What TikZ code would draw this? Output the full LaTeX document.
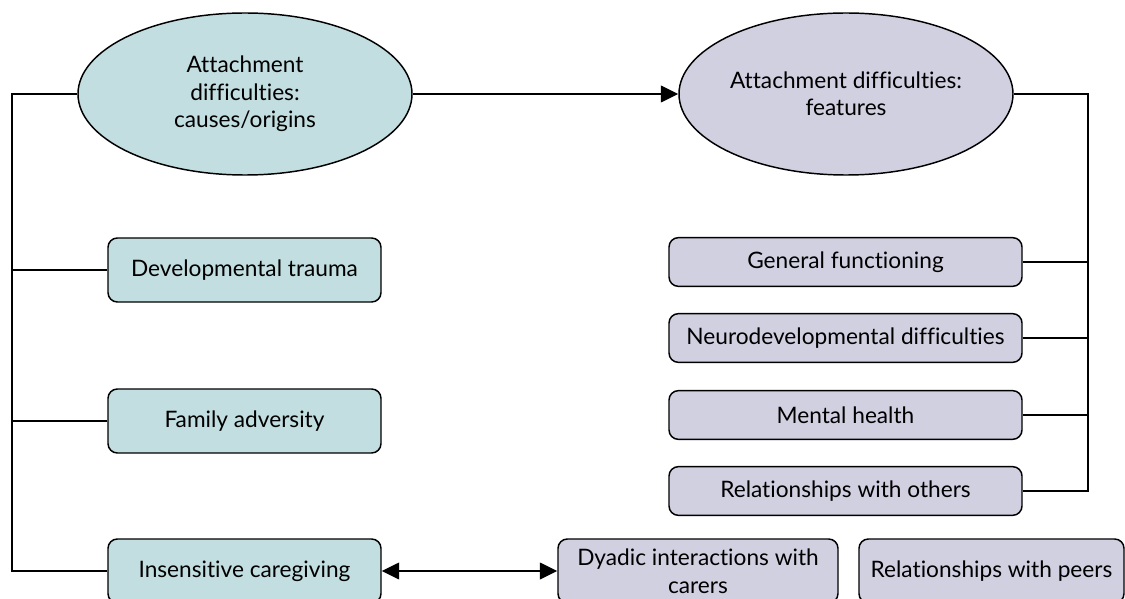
\documentclass[tikz,border=0pt]{standalone}
\usepackage{fontspec}
\setmainfont{Lato}[Ligatures=NoCommon]
\usepackage{tikz}
\usetikzlibrary{arrows.meta,shapes.geometric}

\definecolor{causefill}{HTML}{C2DEE0}
\definecolor{featfill}{HTML}{D1D0E1}

\tikzset{
  bubble/.style={ellipse,draw,line width=1.1pt,inner sep=0pt,align=center,
    minimum width=250.5pt,minimum height=121.5pt,font=\fontsize{17}{20.5}\selectfont},
  card/.style={rectangle,rounded corners=7pt,draw,line width=1.1pt,inner sep=0pt,align=center,
    font=\fontsize{17}{21}\selectfont},
  link/.style={line width=1.1pt},
  tip/.style={line width=1.1pt,-{Triangle[length=13pt,width=12.5pt]}},
  twotip/.style={line width=1.1pt,{Triangle[length=13pt,width=12.5pt]}-{Triangle[length=13pt,width=12.5pt]}}
}

\begin{document}
\begin{tikzpicture}[x=0.75pt,y=0.75pt,yscale=-1,xscale=1]
\useasboundingbox (0,0) rectangle (1125,599);

%Shape: Ellipse [causes]
\node[bubble,fill=causefill] (lell) at (245,94) {Attachment\\difficulties:\\causes/origins};
%Shape: Ellipse [features]
\node[bubble,fill=featfill] (rell) at (846,94) {Attachment difficulties:\\features};

%Shape: Rounded rect [causes]
\node[card,fill=causefill,minimum width=204.75pt,minimum height=48pt] (dev) at (244.5,270) {Developmental trauma};
\node[card,fill=causefill,minimum width=204.75pt,minimum height=48pt] (fam) at (244.5,421) {Family adversity};
\node[card,fill=causefill,minimum width=204.75pt,minimum height=48pt] (ins) at (244.5,571) {Insensitive caregiving};

%Shape: Rounded rect [features]
\node[card,fill=featfill,minimum width=264.75pt,minimum height=36.5pt] (gen) at (845.5,262) {General functioning};
\node[card,fill=featfill,minimum width=264.75pt,minimum height=36.5pt] (neu) at (845.5,338) {Neurodevelopmental difficulties};
\node[card,fill=featfill,minimum width=264.75pt,minimum height=36.5pt] (men) at (845.5,415) {Mental health};
\node[card,fill=featfill,minimum width=264.75pt,minimum height=36.5pt] (oth) at (845.5,491) {Relationships with others};

%Shape: Rounded rect [bottom row]
\node[card,fill=featfill,minimum width=210pt,minimum height=48pt] (dya) at (698,571) {Dyadic interactions with\\carers};
\node[card,fill=featfill,minimum width=198.75pt,minimum height=48pt] (peer) at (991.5,571) {Relationships with peers};

% Connectors
\coordinate (lbus) at (12,94);
\coordinate (rbus) at (1088,94);
\draw[tip] (lell.east) -- (rell.west);
\draw[link] (lell.west) -- (lbus) |- (ins.west);
\draw[link] (dev.west) -- (dev.west -| lbus);
\draw[link] (fam.west) -- (fam.west -| lbus);
\draw[link] (rell.east) -- (rbus) |- (oth.east);
\draw[link] (gen.east) -- (gen.east -| rbus);
\draw[link] (neu.east) -- (neu.east -| rbus);
\draw[link] (men.east) -- (men.east -| rbus);
\draw[twotip] (ins.east) -- (dya.west);

\end{tikzpicture}
\end{document}
